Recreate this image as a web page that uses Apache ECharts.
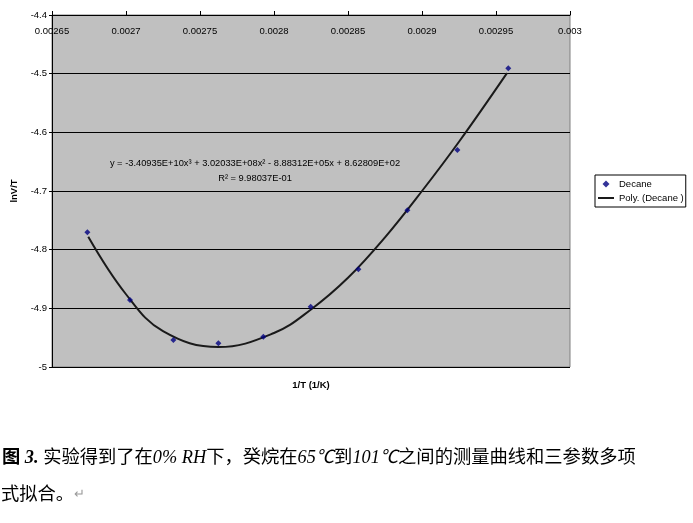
<!DOCTYPE html>
<html lang="zh">
  <head>
    <meta charset="UTF-8" />
    <title>Decane</title>
    <script src="https://cdn.jsdelivr.net/npm/echarts@6/dist/echarts.min.js"></script>
    <style>
      body {
        margin: 0;
        background: #fff;
      }
      #main {
        width: 693px;
        height: 523px;
      }
    </style>
  </head>
  <body>
    <div id="main"></div>
    <script>
      // 测量点 (1/T, lnV/T)
      var invT = [0.0026739, 0.0027027, 0.002732, 0.0027624, 0.0027928, 0.0028248, 0.002857, 0.0028901, 0.0029239, 0.0029583];
      var lnVT = [-4.7704, -4.8858, -4.954, -4.9596, -4.9483, -4.8972, -4.8335, -4.7329, -4.6301, -4.4909];
      // 拟合曲线上读出的点
      var fitX = [0.0026745, 0.0027, 0.002725, 0.0027625, 0.0028, 0.002825, 0.00285, 0.002875, 0.0029, 0.002925, 0.0029574];
      var fitY = [-4.778, -4.876, -4.939, -4.966, -4.942, -4.902, -4.848, -4.779, -4.7, -4.616, -4.499];
      var xTicks = [0.00265, 0.003, 0.00005];
      var yTicks = [-5, -4.4, 0.1];

      var fontLat = "Arial, 'Liberation Sans', sans-serif";
      var fontCap = "'Liberation Serif', 'Noto Sans CJK SC', serif";

      var chart = echarts.init(document.getElementById("main"));
      var option = {
        animation: false,
        backgroundColor: "#fff",
        grid: {
          left: 52,
          top: 15,
          width: 518,
          height: 352,
          show: true,
          backgroundColor: "#c0c0c0",
          borderColor: "#808080",
          borderWidth: 1,
          outerBoundsMode: "none",
        },
        xAxis: {
          type: "value",
          position: "top",
          min: xTicks[0],
          max: xTicks[1],
          interval: xTicks[2],
          axisLine: { onZero: false, lineStyle: { color: "#000", width: 1 } },
          axisTick: { show: true, length: 4, lineStyle: { color: "#000" } },
          axisLabel: {
            inside: true,
            margin: 11,
            color: "#000",
            fontSize: 9.5,
            fontFamily: fontLat,
            showMinLabel: true,
            showMaxLabel: true,
            formatter: function (v) {
              return String(+v.toFixed(5));
            },
          },
          splitLine: { show: false },
        },
        yAxis: {
          type: "value",
          min: yTicks[0],
          max: yTicks[1],
          interval: yTicks[2],
          name: "lnV/T",
          nameLocation: "middle",
          nameGap: 31,
          nameRotate: 90,
          nameTextStyle: { color: "#000", fontSize: 9.5, fontWeight: "bold", fontFamily: fontLat },
          axisLine: { show: true, onZero: false, lineStyle: { color: "#000", width: 1 } },
          axisTick: { show: true, length: 3, lineStyle: { color: "#000" } },
          axisLabel: {
            margin: 5,
            color: "#000",
            fontSize: 9.5,
            fontFamily: fontLat,
            formatter: function (v) {
              return String(+v.toFixed(1));
            },
          },
          splitLine: { show: true, lineStyle: { color: "#000", width: 1 } },
        },
        legend: {
          orient: "vertical",
          left: 595,
          top: 175,
          backgroundColor: "#fff",
          borderColor: "#000",
          borderWidth: 1,
          borderRadius: 0,
          padding: [4, 2, 4, 3],
          itemGap: 4,
          itemWidth: 16,
          itemHeight: 7,
          symbolKeepAspect: true,
          textStyle: { color: "#000", fontSize: 9.5, fontFamily: fontLat },
          data: [
            { name: "Decane", icon: "path://M5,0L10,5L5,10L0,5Z" },
            { name: "Poly. (Decane )", icon: "path://M0,0H16V2H0Z" },
          ],
        },
        graphic: [
          {
            type: "text",
            x: 255,
            y: 163,
            style: {
              text: "y = -3.40935E+10x³ + 3.02033E+08x² - 8.88312E+05x + 8.62809E+02",
              fill: "#000",
              font: "9.3px " + fontLat,
              align: "center",
              verticalAlign: "middle",
            },
          },
          {
            type: "text",
            x: 255,
            y: 178,
            style: {
              text: "R² = 9.98037E-01",
              fill: "#000",
              font: "9.3px " + fontLat,
              align: "center",
              verticalAlign: "middle",
            },
          },
          {
            type: "text",
            x: 311,
            y: 385,
            style: {
              text: "1/T (1/K)",
              fill: "#000",
              font: "bold 9.5px " + fontLat,
              align: "center",
              verticalAlign: "middle",
            },
          },
          {
            type: "text",
            x: 2,
            y: 458,
            style: {
              text: "{b|图} {bi|3.} 实验得到了在{i|0% RH}下，癸烷在{i|65℃}到{i|101℃}之间的测量曲线和三参数多项",
              fill: "#000",
              fontSize: 18.3,
              fontFamily: fontCap,
              verticalAlign: "middle",
              rich: {
                b: { fontSize: 18.3, fontWeight: "bold", fontFamily: fontCap, fill: "#000" },
                bi: { fontSize: 18.3, fontWeight: "bold", fontStyle: "italic", fontFamily: fontCap, fill: "#000" },
                i: { fontSize: 18.3, fontStyle: "italic", fontFamily: fontCap, fill: "#000" },
              },
            },
          },
          {
            type: "text",
            x: 1,
            y: 495,
            style: {
              text: "式拟合。{g|↵}",
              fill: "#000",
              fontSize: 18.3,
              fontFamily: fontCap,
              verticalAlign: "middle",
              rich: {
                g: { fontSize: 13, fill: "#999", fontFamily: fontCap },
              },
            },
          },
        ],
        series: [
          {
            name: "Poly. (Decane )",
            type: "line",
            smooth: 0.4,
            symbol: "none",
            lineStyle: { color: "#1a1a1a", width: 2 },
            itemStyle: { color: "#1a1a1a" },
            data: fitX.map(function (x, i) {
              return [x, fitY[i]];
            }),
            z: 2,
          },
          {
            name: "Decane",
            type: "scatter",
            symbol: "diamond",
            symbolSize: 6,
            itemStyle: { color: "#000080" },
            data: invT.map(function (x, i) {
              return [x, lnVT[i]];
            }),
            z: 3,
          },
        ],
      };
      chart.setOption(option);
    </script>
  </body>
</html>
